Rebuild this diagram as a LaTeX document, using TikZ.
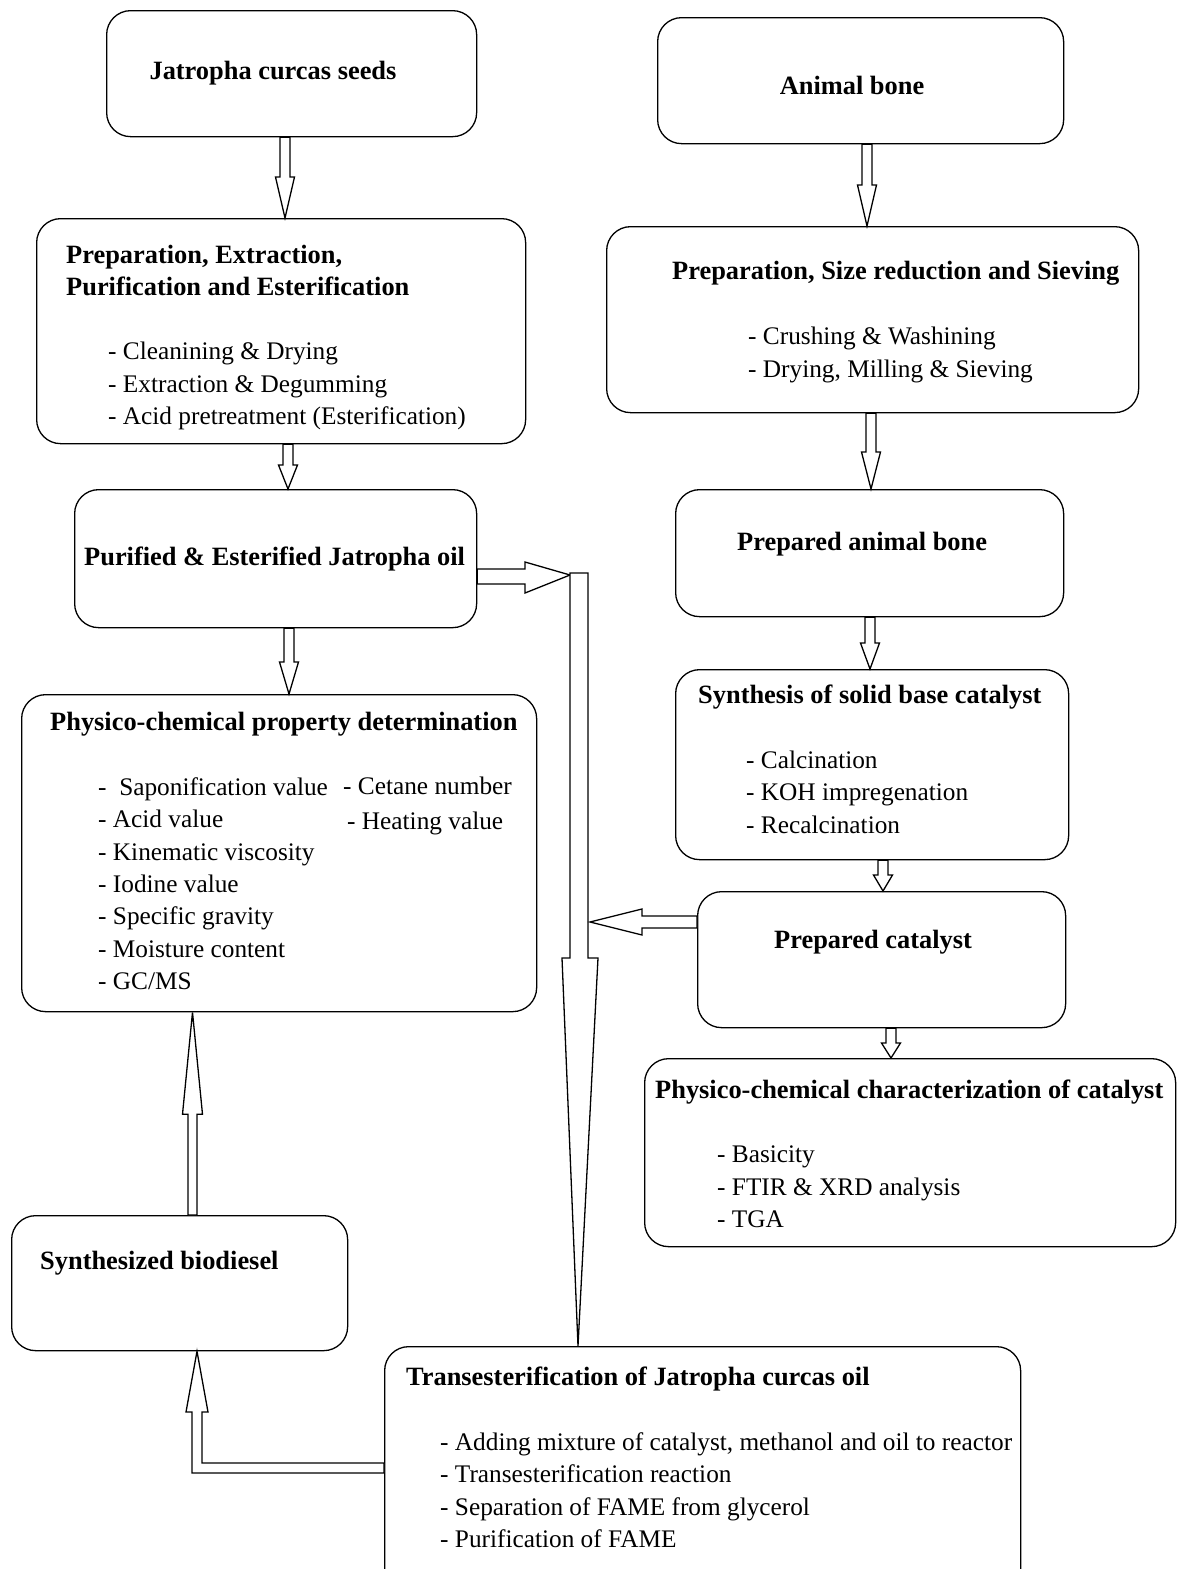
\documentclass[tikz,border=0pt]{standalone}
\usepackage{fontspec}
\setmainfont{Liberation Serif}
\usetikzlibrary{calc}
\tikzset{
  box/.style={draw, line width=1.3pt, rounded corners=24pt, rectangle, inner sep=0pt, anchor=north west},
  blk/.style={draw, line width=1.3pt, fill=white, line join=miter},
  ttl/.style={anchor=base west, inner sep=0pt, font=\fontsize{26.4}{30}\selectfont\bfseries},
  itm/.style={anchor=base west, inner sep=0pt, font=\fontsize{25.3}{30}\selectfont},
}
% vertical block arrow downward: x, from node, to node, half shaft, half head, head length
\newcommand\arrdown[6]{%
  \draw[blk] let \p1=(#2.south), \p2=(#3.north) in
   (#1pt-#4pt,\y1) -- (#1pt-#4pt,\y2+#6pt) -- (#1pt-#5pt,\y2+#6pt) -- (#1pt,\y2)
   -- (#1pt+#5pt,\y2+#6pt) -- (#1pt+#4pt,\y2+#6pt) -- (#1pt+#4pt,\y1) -- cycle;}
\newcommand\arrup[6]{%
  \draw[blk] let \p1=(#2.north), \p2=(#3.south) in
   (#1pt-#4pt,\y1) -- (#1pt-#4pt,\y2-#6pt) -- (#1pt-#5pt,\y2-#6pt) -- (#1pt,\y2)
   -- (#1pt+#5pt,\y2-#6pt) -- (#1pt+#4pt,\y2-#6pt) -- (#1pt+#4pt,\y1) -- cycle;}
\begin{document}
\begin{tikzpicture}[x=1pt,y=-1pt]
\useasboundingbox (0,0) rectangle (1177,1569);
% boxes
\node[box, minimum width=370pt, minimum height=126pt] (seeds) at (106,10) {};
\node[box, minimum width=406pt, minimum height=126pt] (bone) at (657,17) {};
\node[box, minimum width=489pt, minimum height=225pt] (prepA) at (36,218) {};
\node[box, minimum width=532pt, minimum height=186pt] (prepB) at (606,226) {};
\node[box, minimum width=402pt, minimum height=138pt] (oil) at (74,489) {};
\node[box, minimum width=388pt, minimum height=127pt] (pbone) at (675,489) {};
\node[box, minimum width=515pt, minimum height=317pt] (phys) at (21,694) {};
\node[box, minimum width=393pt, minimum height=190pt] (synth) at (675,669) {};
\node[box, minimum width=368pt, minimum height=136pt] (pcat) at (697,891) {};
\node[box, minimum width=531pt, minimum height=188pt] (charc) at (644,1058) {};
\node[box, minimum width=336pt, minimum height=135pt] (bio) at (11,1215) {};
\node[box, minimum width=636pt, minimum height=250pt] (trans) at (384,1346) {};
% texts
\node[ttl, anchor=base] (t1) at (273,79) {Jatropha curcas seeds};
\node[ttl, anchor=base] (t2) at (852,94) {Animal bone};
\node[ttl] (t3a) at (66,263) {Preparation, Extraction,};
\node[ttl] (t3b) at (66,295) {Purification and Esterification};
\node[itm] (t3c) at (108,359) {- Cleanining \& Drying};
\node[itm] (t3d) at (108,392) {- Extraction \& Degumming};
\node[itm] (t3e) at (108,424) {- Acid pretreatment (Esterification)};
\node[ttl] (t4a) at (672,279) {Preparation, Size reduction and Sieving};
\node[itm] (t4b) at (748,344) {- Crushing \& Washining};
\node[itm] (t4c) at (748,377) {- Drying, Milling \& Sieving};
\node[ttl] (t5) at (84,565) {Purified \& Esterified Jatropha oil};
\node[ttl] (t6) at (737,550) {Prepared animal bone};
\node[ttl] (t7) at (50,730) {Physico-chemical property determination};
\node[itm] (t7a) at (98,795) {-\ \ Saponification value};
\node[itm] (t7b) at (98,827) {- Acid value};
\node[itm] (t7c) at (98,860) {- Kinematic viscosity};
\node[itm] (t7d) at (98,892) {- Iodine value};
\node[itm] (t7e) at (98,924) {- Specific gravity};
\node[itm] (t7f) at (98,957) {- Moisture content};
\node[itm] (t7g) at (98,989) {- GC/MS};
\node[itm] (t7h) at (343,794) {- Cetane number};
\node[itm] (t7i) at (347,829) {- Heating value};
\node[ttl] (t8) at (698,703) {Synthesis of solid base catalyst};
\node[itm] (t8a) at (746,768) {- Calcination};
\node[itm] (t8b) at (746,800) {- KOH impregenation};
\node[itm] (t8c) at (746,833) {- Recalcination};
\node[ttl] (t9) at (774,948) {Prepared catalyst};
\node[ttl] (t10) at (655,1098) {Physico-chemical characterization of catalyst};
\node[itm] (t10a) at (717,1162) {- Basicity};
\node[itm] (t10b) at (717,1195) {- FTIR \& XRD analysis};
\node[itm] (t10c) at (717,1227) {- TGA};
\node[ttl] (t11) at (40,1269) {Synthesized biodiesel};
\node[ttl] (t12) at (406,1385) {Transesterification of Jatropha curcas oil};
\node[itm] (t12a) at (440,1450) {- Adding mixture of catalyst, methanol and oil to reactor};
\node[itm] (t12b) at (440,1482) {- Transesterification reaction};
\node[itm] (t12c) at (440,1515) {- Separation of FAME from glycerol};
\node[itm] (t12d) at (440,1547) {- Purification of FAME};
% vertical block arrows
\arrdown{285}{seeds}{prepA}{5}{9.5}{41}
\arrdown{867}{bone}{prepB}{5}{9.5}{41}
\arrdown{288}{prepA}{oil}{5}{9.5}{24}
\arrdown{871}{prepB}{pbone}{5}{9.5}{37}
\arrdown{289}{oil}{phys}{5}{9.5}{32}
\arrdown{870}{pbone}{synth}{5}{9.5}{26}
\arrdown{883}{synth}{pcat}{5}{9.5}{16}
\arrdown{891}{pcat}{charc}{5}{9.5}{15}
\arrup{192.5}{bio}{phys}{4.5}{10}{102}
% oil -> long arrow to transesterification
\draw[blk] let \p1=(oil.east) in (\x1,569) -- (525,569) -- (525,562) -- (570,575) -- (525,593) -- (525,584) -- (\x1,584) -- cycle;
\draw[blk] let \p2=(trans.north) in (570,573) -- (588,573) -- (588,958) -- (598,958) -- (578,\y2) -- (562,958) -- (570,958) -- cycle;
% prepared catalyst -> left
\draw[blk] let \p1=(pcat.west) in (\x1,916) -- (642,916) -- (642,909) -- (590,922) -- (642,935) -- (642,928) -- (\x1,928) -- cycle;
% transesterification -> synthesized biodiesel
\draw[blk] let \p1=(trans.west), \p2=(bio.south) in (\x1,1463) -- (202,1463) -- (202,1412) -- (208,1412) -- (197,\y2) -- (186,1412) -- (192,1412) -- (192,1473) -- (\x1,1473) -- cycle;
\end{tikzpicture}
\end{document}
